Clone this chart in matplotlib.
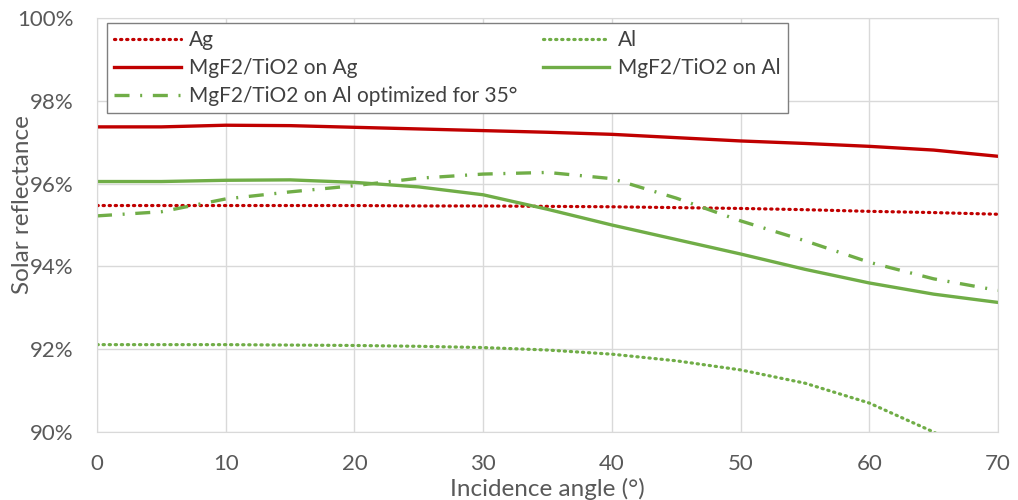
import matplotlib
matplotlib.use("Agg")
import matplotlib.pyplot as plt
from matplotlib.ticker import FuncFormatter

# Réflectance solaire en fonction de l'angle d'incidence
angles = [0, 5, 10, 15, 20, 25, 30, 35, 40, 45, 50, 55, 60, 65, 70]
ag = [95.47, 95.47, 95.47, 95.47, 95.47, 95.46, 95.46, 95.45, 95.44, 95.42,
      95.40, 95.37, 95.33, 95.30, 95.26]
mgf2_ag = [97.37, 97.37, 97.41, 97.40, 97.36, 97.32, 97.28, 97.24, 97.19, 97.11,
           97.03, 96.97, 96.90, 96.81, 96.66]
al = [92.11, 92.11, 92.11, 92.10, 92.09, 92.07, 92.04, 91.98, 91.88, 91.72,
      91.50, 91.18, 90.70, 90.00, 89.10]
mgf2_al = [96.05, 96.05, 96.08, 96.09, 96.03, 95.92, 95.73, 95.38, 95.00, 94.65,
           94.30, 93.93, 93.60, 93.33, 93.13]
mgf2_al_35 = [95.22, 95.32, 95.63, 95.80, 95.95, 96.13, 96.23, 96.27, 96.12, 95.65,
              95.10, 94.62, 94.10, 93.70, 93.42]

rouge = "#C00000"
vert = "#70AD47"
gris = "#595959"

plt.rcParams["font.family"] = ["Lato", "DejaVu Sans"]

fig = plt.figure(figsize=(10.18, 5.0), dpi=100)
ax = fig.add_axes([0.0953, 0.136, 0.885, 0.828])

pointille = (0, (0.4, 1.5))
l_ag, = ax.plot(angles, ag, color=rouge, lw=2.3, linestyle=pointille,
                dash_capstyle="round", label="Ag")
l_mag, = ax.plot(angles, mgf2_ag, color=rouge, lw=2.4, label="MgF2/TiO2 on Ag")
l_al, = ax.plot(angles, al, color=vert, lw=2.3, linestyle=pointille,
                dash_capstyle="round", label="Al")
l_mal, = ax.plot(angles, mgf2_al, color=vert, lw=2.4, label="MgF2/TiO2 on Al")
l_opt, = ax.plot(angles, mgf2_al_35, color=vert, lw=2.4,
                 linestyle=(0, (4.5, 3.2, 0.6, 3.2)),
                 label="MgF2/TiO2 on Al optimized for 35°")

ax.set_xlim(0, 70)
ax.set_ylim(90, 100)
ax.set_xticks(range(0, 71, 10))
ax.set_yticks(range(90, 101, 2))
ax.yaxis.set_major_formatter(FuncFormatter(lambda v, p: f"{v:.0f}%"))
ax.grid(True, color="#D9D9D9", lw=1.0)
ax.set_axisbelow(True)
for s in ax.spines.values():
    s.set_color("#D9D9D9")
ax.tick_params(length=0, labelsize=16, colors=gris)
ax.tick_params(axis="x", pad=16)
ax.tick_params(axis="y", pad=17)

ax.set_xlabel("Incidence angle (°)", fontsize=17.5, color=gris)
ax.xaxis.set_label_coords(0.5, -0.137)
ax.xaxis.label.set_va("center")
ax.set_ylabel("Solar reflectance", fontsize=17.5, color=gris)
ax.yaxis.set_label_coords(-0.083, 0.55)
ax.yaxis.label.set_va("center")

# Légende sur deux colonnes : l'ordre des poignées remplit colonne par colonne
leg = ax.legend(handles=[l_ag, l_mag, l_opt, l_al, l_mal], ncol=2,
                loc="upper left", bbox_to_anchor=(0.011, 0.988), borderaxespad=0,
                fontsize=15, frameon=True, fancybox=False, handlelength=3.2,
                handletextpad=0.4, columnspacing=1.2, labelspacing=0.38,
                borderpad=0.35, labelcolor="#404040")
leg.get_frame().set_edgecolor("#7F7F7F")
leg.get_frame().set_linewidth(1.0)
leg.get_frame().set_alpha(1.0)

fig.savefig("out.png", dpi=100)
